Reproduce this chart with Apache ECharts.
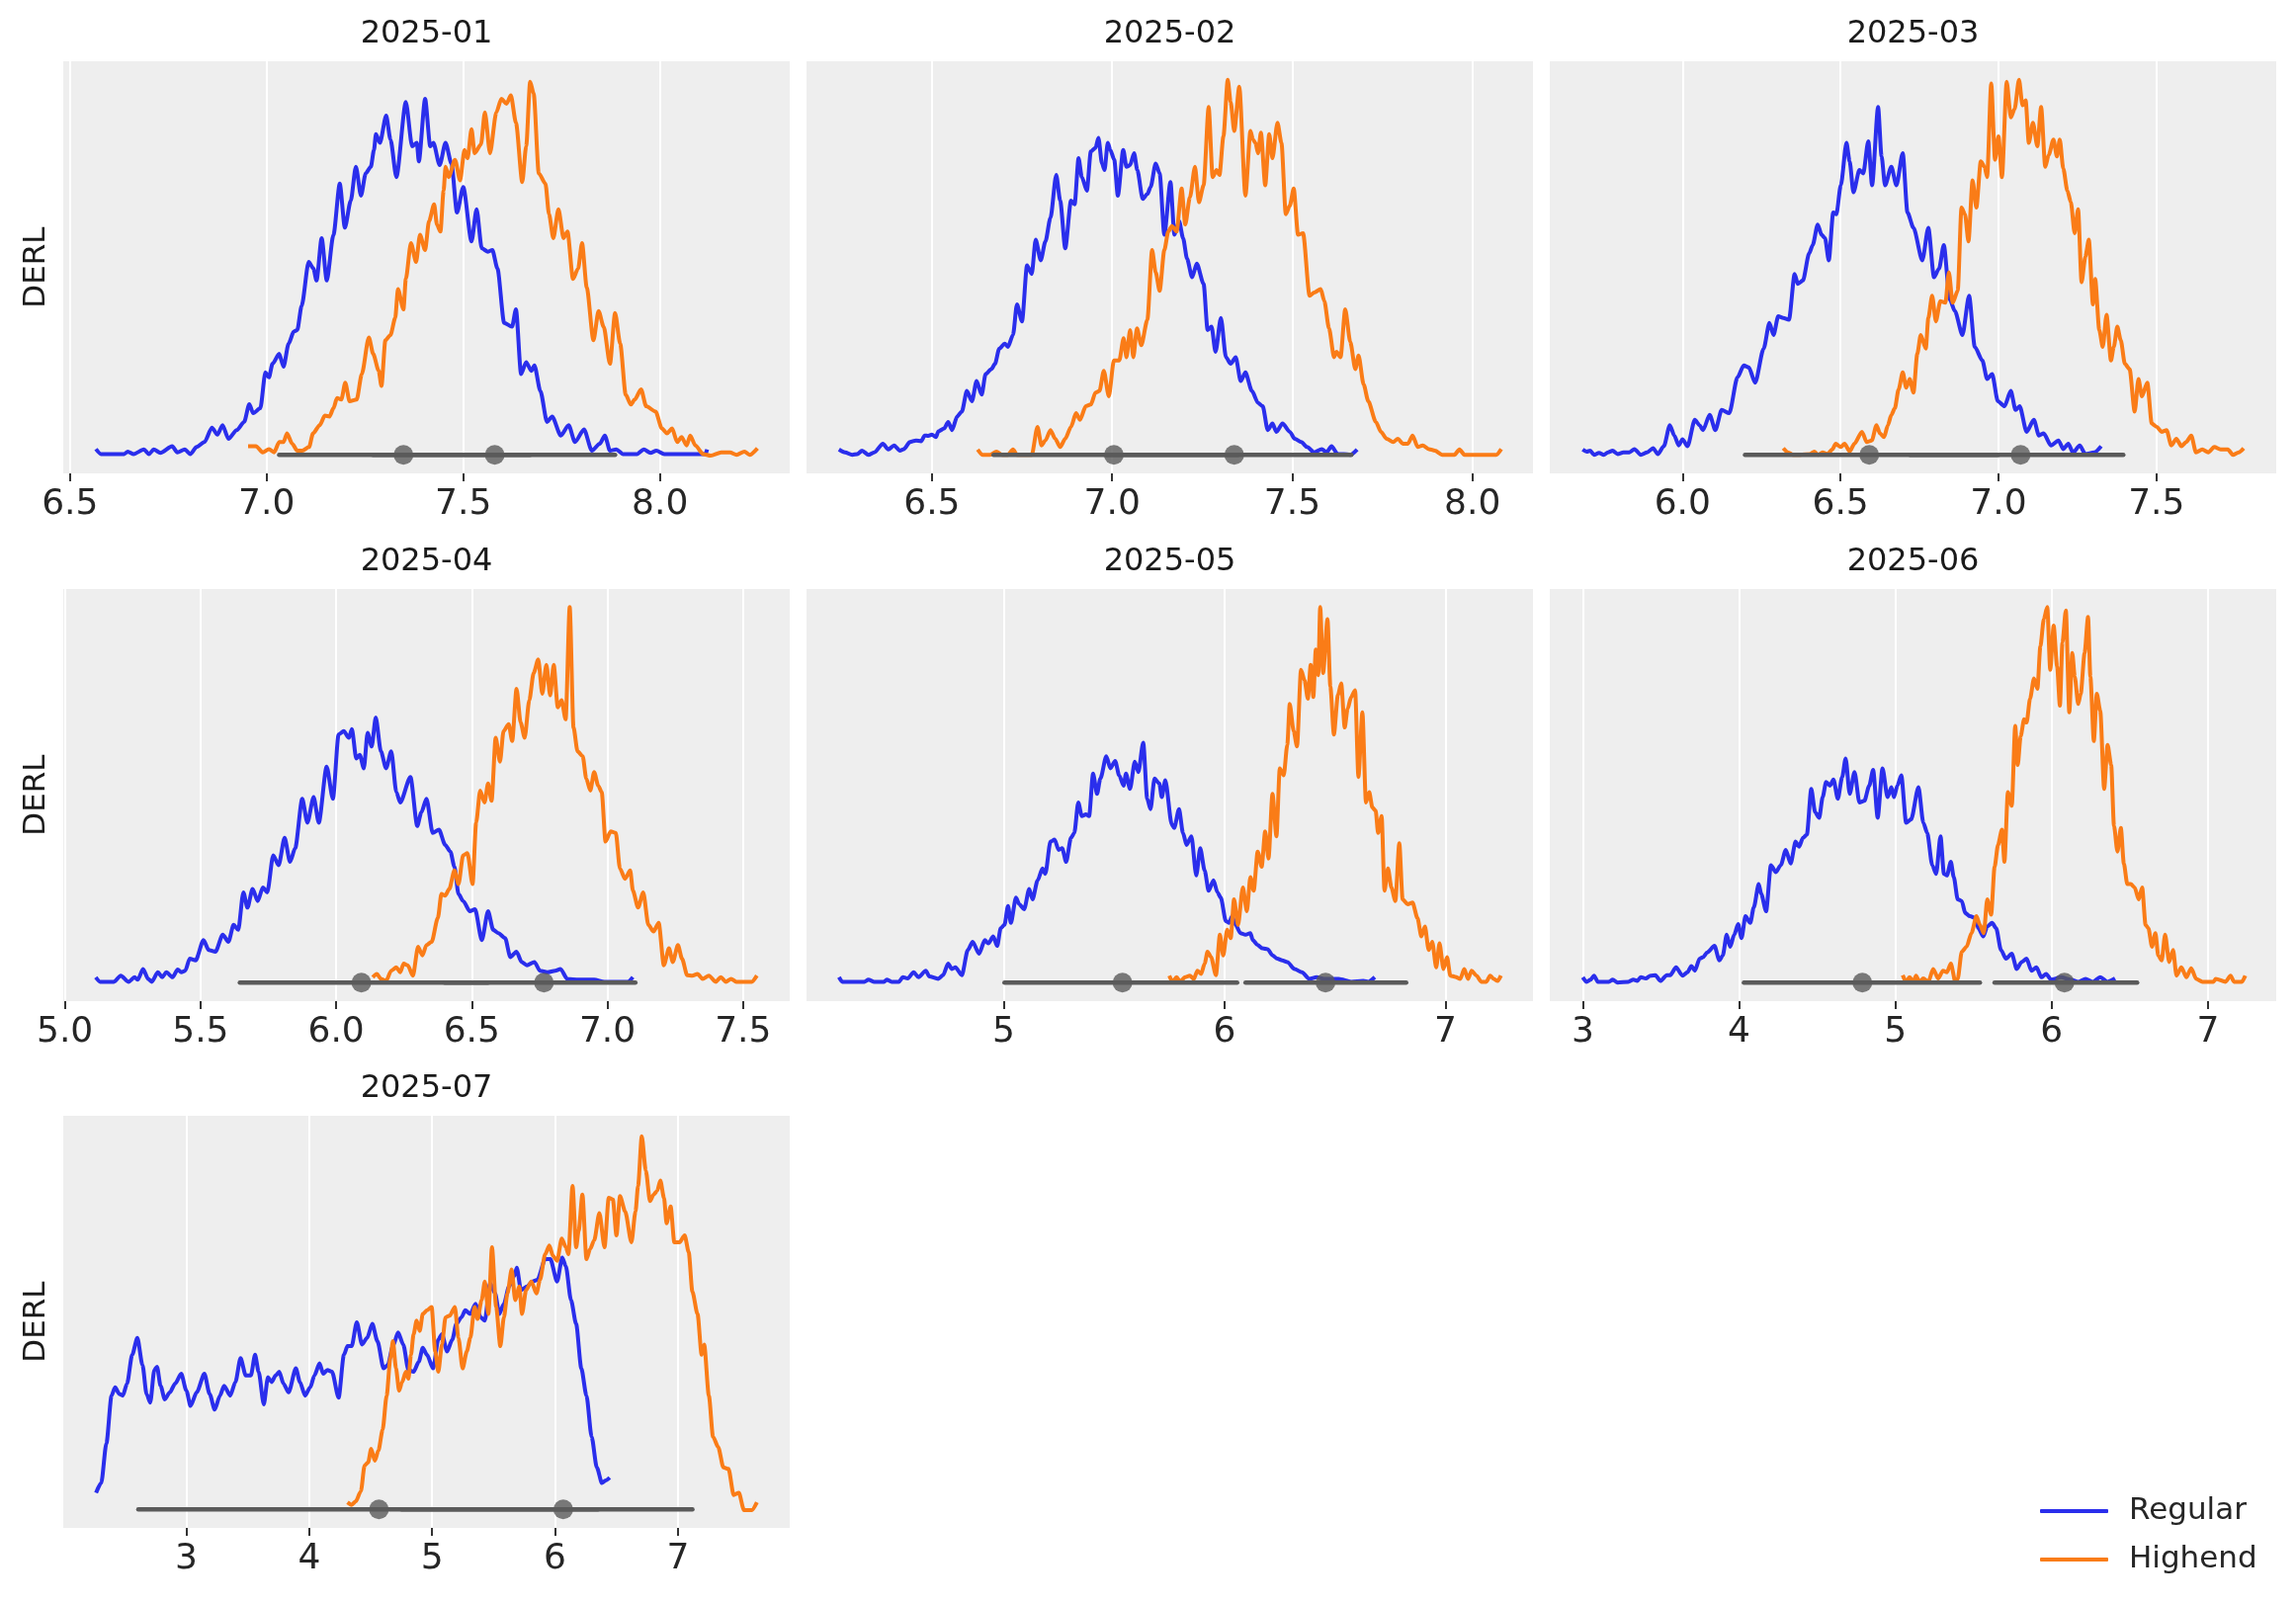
<!DOCTYPE html>
<html>
<head>
<meta charset="utf-8">
<title>DERL by month</title>
<script src="https://cdn.jsdelivr.net/npm/echarts@6.0.0/dist/echarts.min.js"></script>
<style>
  html, body { margin: 0; padding: 0; background: #fff; }
  #chart { width: 2323px; height: 1623px; }
</style>
</head>
<body>
<div id="chart"></div>
<script>
// panel titles and series names
var months = ['2025-01', '2025-02', '2025-03', '2025-04', '2025-05', '2025-06', '2025-07'];
var seriesNames = ['Regular', 'Highend'];

// x range of every panel and its tick values
var xRanges = [[6.483, 8.330], [6.152, 8.168], [5.580, 7.879], [4.994, 7.672], [4.108, 7.396], [2.789, 7.437], [1.998, 7.910]];
var xTicks = [[6.5, 7.0, 7.5, 8.0], [6.5, 7.0, 7.5, 8.0], [6.0, 6.5, 7.0, 7.5], [5.0, 5.5, 6.0, 6.5, 7.0, 7.5], [5, 6, 7], [3, 4, 5, 6, 7], [3, 4, 5, 6, 7]];
var tickDecimals = [1, 1, 1, 1, 0, 0, 0];

// HDI intervals and point estimates
var regHdi = [[7.032, 7.67], [6.671, 7.35], [6.198, 7.00], [5.645, 6.56], [5.004, 6.057], [4.031, 5.541], [2.609, 6.35]];
var regPoint = [7.348, 7.005, 6.591, 6.093, 5.538, 4.789, 4.567];
var highHdi = [[7.27, 7.886], [6.98, 7.664], [6.72, 7.395], [6.40, 7.103], [6.095, 6.822], [5.635, 6.547], [4.75, 7.118]];
var highPoint = [7.580, 7.339, 7.070, 6.766, 6.457, 6.082, 6.067];

// density curves (relative height, % of panel)
var reg01 = [[6.566,5.9],[6.579,4.7],[6.638,4.7],[6.647,5.3],[6.662,4.7],[6.688,5.8],[6.701,4.7],[6.713,5.8],[6.730,5.0],[6.760,6.6],[6.773,5.1],[6.792,5.8],[6.806,4.7],[6.822,6.4],[6.842,7.6],[6.861,11.1],[6.875,9.4],[6.888,11.7],[6.903,8.4],[6.924,10.5],[6.943,12.5],[6.956,16.8],[6.966,14.6],[6.984,15.8],[6.997,24.5],[7.006,23.3],[7.015,26.6],[7.032,29.0],[7.043,25.9],[7.056,31.5],[7.069,34.4],[7.078,34.8],[7.089,40.6],[7.107,51.3],[7.119,49.7],[7.127,46.8],[7.140,57.1],[7.153,46.8],[7.170,57.9],[7.186,70.3],[7.199,59.6],[7.214,66.2],[7.227,74.4],[7.240,67.4],[7.252,72.8],[7.265,74.4],[7.273,78.5],[7.278,82.3],[7.288,80.2],[7.304,86.8],[7.315,81.0],[7.330,71.9],[7.354,90.1],[7.370,79.4],[7.382,80.2],[7.387,75.7],[7.403,90.9],[7.416,79.4],[7.424,80.2],[7.440,74.8],[7.455,80.2],[7.470,75.2],[7.484,63.3],[7.500,69.5],[7.521,56.3],[7.534,64.1],[7.547,54.6],[7.563,53.8],[7.574,54.2],[7.587,49.7],[7.604,36.5],[7.624,35.6],[7.634,39.8],[7.647,24.1],[7.660,27.0],[7.673,24.9],[7.681,26.2],[7.696,20.0],[7.713,12.5],[7.726,13.8],[7.748,9.2],[7.768,11.7],[7.784,7.6],[7.807,10.7],[7.827,5.5],[7.847,7.2],[7.860,9.2],[7.873,5.5],[7.889,5.8],[7.906,4.7],[7.942,4.7],[7.959,5.8],[7.976,5.0],[7.991,5.5],[8.011,4.7],[8.116,4.7],[8.120,5.8]];
var high01 = [[6.953,6.6],[6.973,6.6],[6.990,5.1],[7.006,5.9],[7.019,5.1],[7.032,7.6],[7.043,7.6],[7.052,9.7],[7.065,7.2],[7.078,5.5],[7.091,5.5],[7.108,6.4],[7.118,9.7],[7.135,11.7],[7.148,14.0],[7.160,13.8],[7.170,15.8],[7.179,18.3],[7.190,17.9],[7.200,22.0],[7.211,17.5],[7.229,17.9],[7.242,24.1],[7.260,33.0],[7.271,29.0],[7.285,24.9],[7.292,21.2],[7.302,32.3],[7.315,33.6],[7.327,37.7],[7.334,44.7],[7.348,39.8],[7.354,47.2],[7.367,55.9],[7.380,51.3],[7.390,57.9],[7.403,54.2],[7.413,61.2],[7.426,65.3],[7.433,60.4],[7.442,58.7],[7.450,68.6],[7.455,74.4],[7.463,71.9],[7.479,76.1],[7.492,71.1],[7.503,78.5],[7.511,76.5],[7.521,83.5],[7.529,77.7],[7.545,79.8],[7.555,87.6],[7.568,77.7],[7.584,87.6],[7.597,90.9],[7.610,89.7],[7.621,91.7],[7.634,85.1],[7.650,70.7],[7.660,79.4],[7.670,95.0],[7.679,92.2],[7.692,72.8],[7.709,70.3],[7.718,62.9],[7.729,57.1],[7.742,64.1],[7.755,57.1],[7.765,58.7],[7.779,47.2],[7.792,49.7],[7.802,55.9],[7.814,45.1],[7.831,32.3],[7.844,39.4],[7.857,35.6],[7.873,26.6],[7.886,38.9],[7.899,31.5],[7.913,19.1],[7.926,16.7],[7.936,17.9],[7.952,20.4],[7.965,16.3],[7.989,15.0],[8.005,10.9],[8.018,9.7],[8.031,10.9],[8.044,7.6],[8.055,8.8],[8.068,6.8],[8.077,9.2],[8.090,6.8],[8.110,4.7],[8.129,4.3],[8.156,5.1],[8.178,5.1],[8.195,4.5],[8.215,5.3],[8.228,4.5],[8.248,6.1]];
var reg02 = [[6.242,5.8],[6.259,5.1],[6.279,4.5],[6.293,4.7],[6.306,5.5],[6.324,4.5],[6.340,5.1],[6.364,7.2],[6.379,5.8],[6.395,6.8],[6.411,5.5],[6.422,5.9],[6.439,7.6],[6.456,8.0],[6.470,7.8],[6.480,9.2],[6.490,9.1],[6.500,9.4],[6.511,8.8],[6.518,10.2],[6.534,10.9],[6.545,12.5],[6.556,10.5],[6.570,13.8],[6.583,15.0],[6.597,20.0],[6.611,17.5],[6.624,22.4],[6.638,19.1],[6.649,24.1],[6.665,25.3],[6.675,26.6],[6.687,30.3],[6.702,31.5],[6.711,30.7],[6.725,33.6],[6.736,41.0],[6.750,36.9],[6.764,50.5],[6.777,48.4],[6.788,56.7],[6.802,51.7],[6.815,56.3],[6.829,62.0],[6.845,72.4],[6.856,66.2],[6.870,54.6],[6.886,66.2],[6.896,65.3],[6.907,76.5],[6.916,71.9],[6.930,68.6],[6.941,78.1],[6.954,79.0],[6.962,81.4],[6.972,75.2],[6.979,73.6],[6.988,80.2],[6.995,78.5],[7.006,76.1],[7.016,67.4],[7.031,78.5],[7.040,74.4],[7.050,74.8],[7.061,77.7],[7.070,73.6],[7.085,66.6],[7.098,67.8],[7.107,69.5],[7.121,75.2],[7.132,72.8],[7.145,57.9],[7.162,70.7],[7.173,57.9],[7.186,61.2],[7.197,57.1],[7.208,52.1],[7.222,47.6],[7.235,50.9],[7.254,46.0],[7.265,34.8],[7.276,35.6],[7.287,29.5],[7.302,37.7],[7.316,28.2],[7.329,26.6],[7.343,28.2],[7.357,22.4],[7.370,24.5],[7.388,20.0],[7.405,17.1],[7.418,16.3],[7.432,10.5],[7.445,12.1],[7.456,10.1],[7.473,12.1],[7.493,10.1],[7.507,8.4],[7.525,7.6],[7.541,6.4],[7.561,5.1],[7.582,5.9],[7.595,5.1],[7.609,6.6],[7.626,4.7],[7.643,4.7],[7.661,4.5],[7.680,5.8]];
var high02 = [[6.627,5.8],[6.641,4.5],[6.661,4.5],[6.679,5.3],[6.695,4.5],[6.711,4.5],[6.725,5.8],[6.736,4.5],[6.777,4.5],[6.793,11.3],[6.804,6.8],[6.815,8.0],[6.829,10.5],[6.842,8.4],[6.856,6.4],[6.870,8.4],[6.886,11.3],[6.900,14.6],[6.911,13.0],[6.927,16.3],[6.941,16.7],[6.954,19.6],[6.965,20.0],[6.977,24.9],[6.991,18.7],[7.005,27.4],[7.020,27.4],[7.032,32.8],[7.040,28.2],[7.050,34.8],[7.059,28.2],[7.069,35.2],[7.081,31.1],[7.098,37.3],[7.111,54.2],[7.121,48.8],[7.132,44.3],[7.145,54.2],[7.156,58.7],[7.166,60.0],[7.179,58.7],[7.193,69.1],[7.203,60.4],[7.216,67.0],[7.230,74.4],[7.241,65.8],[7.254,69.9],[7.268,88.9],[7.279,71.9],[7.290,73.6],[7.298,72.4],[7.309,81.8],[7.321,95.5],[7.329,90.1],[7.339,83.1],[7.353,93.8],[7.370,67.4],[7.384,83.1],[7.391,81.0],[7.398,80.2],[7.405,77.7],[7.413,82.7],[7.425,69.9],[7.436,82.3],[7.445,76.5],[7.459,85.1],[7.470,80.2],[7.482,62.9],[7.493,64.9],[7.504,69.1],[7.516,57.9],[7.530,58.3],[7.548,43.1],[7.561,43.9],[7.579,44.7],[7.589,41.8],[7.602,35.2],[7.616,28.2],[7.623,29.5],[7.634,28.2],[7.647,39.8],[7.661,31.9],[7.675,25.3],[7.684,28.6],[7.698,21.6],[7.711,17.5],[7.732,12.5],[7.746,10.1],[7.762,8.4],[7.780,7.6],[7.793,8.4],[7.807,7.2],[7.821,7.2],[7.834,9.2],[7.848,6.4],[7.862,6.8],[7.879,5.9],[7.896,5.5],[7.916,4.5],[7.950,4.5],[7.964,5.8],[7.978,4.5],[8.066,4.5],[8.080,5.9]];
var reg03 = [[5.684,5.8],[5.697,5.3],[5.708,5.5],[5.720,4.5],[5.736,5.0],[5.751,4.5],[5.764,5.1],[5.779,5.5],[5.795,4.7],[5.813,5.1],[5.832,5.1],[5.848,5.9],[5.868,4.5],[5.888,5.1],[5.907,6.1],[5.922,4.7],[5.941,6.6],[5.960,11.7],[5.974,9.2],[5.988,6.8],[6.000,8.3],[6.016,6.6],[6.039,13.0],[6.054,11.7],[6.065,10.5],[6.086,14.2],[6.104,10.5],[6.124,15.4],[6.148,14.6],[6.174,23.3],[6.194,26.2],[6.210,25.7],[6.230,22.0],[6.257,30.3],[6.275,36.5],[6.288,33.6],[6.303,38.1],[6.319,37.7],[6.337,37.3],[6.355,48.4],[6.365,46.0],[6.381,46.8],[6.401,53.4],[6.412,55.4],[6.428,60.4],[6.440,57.9],[6.451,57.1],[6.463,51.7],[6.477,63.3],[6.487,62.9],[6.501,69.9],[6.519,80.2],[6.529,75.7],[6.541,68.2],[6.560,73.6],[6.572,72.8],[6.588,80.6],[6.600,69.9],[6.619,88.9],[6.630,76.9],[6.641,69.9],[6.661,74.4],[6.677,69.9],[6.697,77.7],[6.712,63.3],[6.731,59.6],[6.759,51.7],[6.778,59.6],[6.796,47.6],[6.812,49.7],[6.827,55.4],[6.846,42.2],[6.862,39.4],[6.886,33.6],[6.907,43.1],[6.925,30.7],[6.949,27.4],[6.964,22.9],[6.980,24.1],[6.998,17.5],[7.019,16.3],[7.039,20.0],[7.054,15.4],[7.067,16.3],[7.089,10.1],[7.112,13.0],[7.128,9.2],[7.143,9.7],[7.166,6.8],[7.190,8.0],[7.205,5.9],[7.221,7.2],[7.236,5.0],[7.257,6.8],[7.275,4.7],[7.303,5.1],[7.325,6.6]];
var high03 = [[6.319,6.1],[6.334,5.1],[6.350,4.5],[6.373,4.5],[6.404,4.7],[6.417,5.3],[6.429,4.5],[6.443,5.1],[6.459,4.7],[6.474,5.8],[6.485,7.2],[6.501,6.4],[6.513,7.2],[6.529,5.3],[6.544,7.2],[6.568,10.1],[6.583,7.6],[6.599,8.0],[6.614,11.7],[6.625,9.7],[6.638,8.8],[6.650,11.7],[6.661,14.2],[6.672,15.8],[6.684,20.4],[6.697,24.5],[6.708,20.8],[6.719,22.9],[6.731,19.6],[6.743,29.0],[6.754,33.6],[6.770,30.3],[6.778,37.7],[6.790,43.1],[6.802,36.9],[6.816,41.8],[6.832,41.4],[6.843,48.8],[6.855,41.4],[6.871,44.3],[6.883,64.5],[6.894,62.9],[6.905,56.3],[6.918,71.1],[6.930,64.5],[6.944,75.7],[6.956,74.4],[6.964,71.9],[6.977,94.6],[6.989,76.1],[7.000,81.8],[7.011,71.9],[7.026,95.0],[7.039,86.4],[7.051,88.4],[7.065,95.5],[7.076,89.3],[7.086,90.5],[7.096,80.2],[7.109,85.1],[7.123,79.4],[7.135,88.9],[7.148,74.4],[7.159,77.3],[7.174,81.0],[7.185,76.9],[7.194,81.0],[7.205,74.0],[7.218,68.6],[7.229,65.8],[7.241,58.3],[7.252,64.1],[7.263,46.4],[7.275,52.6],[7.286,56.7],[7.299,41.0],[7.306,47.2],[7.319,34.8],[7.330,30.7],[7.342,38.5],[7.356,27.4],[7.365,30.7],[7.376,35.6],[7.387,32.3],[7.400,26.6],[7.415,25.3],[7.431,15.0],[7.443,22.9],[7.454,18.7],[7.471,22.0],[7.485,12.1],[7.501,11.3],[7.516,10.1],[7.532,10.5],[7.547,6.8],[7.563,8.4],[7.579,6.6],[7.594,7.6],[7.610,9.2],[7.625,5.1],[7.645,5.8],[7.664,5.1],[7.683,6.4],[7.703,5.8],[7.726,5.8],[7.742,4.5],[7.760,5.1],[7.776,6.1]];
var reg04 = [[5.114,5.8],[5.130,4.7],[5.181,4.7],[5.206,6.2],[5.235,4.7],[5.257,5.8],[5.269,5.2],[5.288,7.8],[5.307,5.4],[5.320,4.7],[5.343,7.0],[5.359,5.8],[5.374,7.0],[5.397,5.8],[5.416,7.7],[5.429,7.0],[5.444,7.4],[5.460,10.3],[5.482,9.9],[5.511,14.8],[5.530,12.4],[5.555,12.0],[5.582,16.1],[5.603,14.4],[5.622,18.5],[5.639,17.3],[5.658,26.4],[5.673,22.7],[5.692,27.2],[5.711,24.3],[5.730,27.6],[5.746,26.4],[5.768,35.4],[5.788,33.0],[5.810,39.6],[5.830,33.8],[5.849,37.1],[5.875,49.1],[5.894,43.3],[5.917,49.5],[5.936,43.3],[5.965,56.9],[5.988,49.1],[6.009,64.7],[6.028,65.5],[6.047,63.9],[6.058,66.0],[6.074,58.9],[6.087,59.8],[6.102,56.5],[6.116,65.1],[6.131,61.8],[6.146,68.8],[6.165,60.6],[6.184,56.5],[6.203,60.6],[6.222,50.7],[6.236,48.2],[6.274,54.4],[6.299,42.5],[6.314,45.8],[6.333,49.1],[6.356,40.8],[6.379,41.6],[6.402,37.9],[6.421,36.3],[6.436,32.6],[6.451,26.0],[6.468,24.3],[6.493,21.8],[6.512,22.3],[6.537,14.8],[6.560,21.8],[6.579,17.3],[6.598,16.5],[6.623,15.3],[6.642,10.7],[6.665,12.0],[6.684,9.5],[6.703,8.7],[6.731,9.5],[6.751,7.4],[6.779,7.0],[6.808,7.4],[6.827,7.8],[6.852,5.4],[6.894,5.2],[6.951,5.2],[6.989,4.7],[7.075,4.7],[7.094,5.8]];
var high04 = [[6.135,5.8],[6.150,6.6],[6.165,5.4],[6.184,4.9],[6.203,7.4],[6.222,8.2],[6.236,7.0],[6.249,9.1],[6.264,8.7],[6.283,6.2],[6.302,13.2],[6.318,11.1],[6.333,13.6],[6.352,14.4],[6.375,20.2],[6.388,26.0],[6.402,25.6],[6.417,27.2],[6.436,31.7],[6.451,28.4],[6.468,35.4],[6.484,35.9],[6.503,28.4],[6.516,43.3],[6.531,51.1],[6.547,48.2],[6.560,52.8],[6.573,48.6],[6.588,63.9],[6.604,58.1],[6.617,65.5],[6.636,67.2],[6.649,63.1],[6.665,75.8],[6.680,67.6],[6.695,63.9],[6.712,73.0],[6.728,79.6],[6.745,82.9],[6.760,74.6],[6.775,81.6],[6.789,74.2],[6.802,81.6],[6.817,71.3],[6.831,73.0],[6.846,68.4],[6.861,95.6],[6.875,66.4],[6.890,60.6],[6.909,59.4],[6.922,54.0],[6.937,51.1],[6.951,55.6],[6.966,52.3],[6.979,50.7],[6.993,38.7],[7.012,41.2],[7.031,40.8],[7.046,32.2],[7.065,29.7],[7.084,31.7],[7.094,26.8],[7.113,22.7],[7.132,26.4],[7.151,18.5],[7.170,16.9],[7.189,19.0],[7.208,8.7],[7.227,12.8],[7.241,9.5],[7.260,13.6],[7.275,10.3],[7.294,6.3],[7.313,6.2],[7.332,6.6],[7.351,5.4],[7.374,6.2],[7.399,4.7],[7.418,5.8],[7.437,4.7],[7.456,5.4],[7.475,4.7],[7.532,4.7],[7.551,6.2]];
var reg05 = [[4.255,5.8],[4.270,4.7],[4.370,4.7],[4.388,5.2],[4.415,4.7],[4.459,4.7],[4.471,5.2],[4.493,4.7],[4.526,4.7],[4.544,5.8],[4.566,5.5],[4.593,7.0],[4.615,5.8],[4.648,7.4],[4.664,6.0],[4.704,5.4],[4.726,6.3],[4.749,9.1],[4.766,7.8],[4.782,8.2],[4.811,6.3],[4.838,12.4],[4.860,14.4],[4.889,11.5],[4.915,14.8],[4.931,14.0],[4.953,15.7],[4.971,13.4],[4.987,17.7],[5.004,18.5],[5.020,23.1],[5.033,19.0],[5.056,25.1],[5.071,23.5],[5.093,22.3],[5.116,27.2],[5.131,24.7],[5.154,29.3],[5.176,32.2],[5.189,30.9],[5.212,38.7],[5.231,39.2],[5.249,36.7],[5.265,37.1],[5.283,33.8],[5.305,39.6],[5.320,40.8],[5.338,48.2],[5.354,44.9],[5.372,45.3],[5.387,44.9],[5.405,55.2],[5.423,50.3],[5.438,54.0],[5.465,59.4],[5.483,56.5],[5.505,58.3],[5.523,54.8],[5.543,52.3],[5.554,55.2],[5.572,51.5],[5.594,58.1],[5.610,55.6],[5.632,62.7],[5.650,49.1],[5.665,46.6],[5.683,54.0],[5.705,52.8],[5.716,49.5],[5.732,53.6],[5.761,42.9],[5.772,42.0],[5.794,46.6],[5.812,40.8],[5.828,37.9],[5.850,40.0],[5.872,30.5],[5.890,37.1],[5.910,31.7],[5.928,26.8],[5.950,29.3],[5.968,26.4],[5.983,25.1],[6.006,19.4],[6.021,19.0],[6.034,20.6],[6.050,18.5],[6.072,16.5],[6.095,16.1],[6.117,16.5],[6.128,14.8],[6.150,13.6],[6.172,12.8],[6.195,12.6],[6.217,11.1],[6.239,10.3],[6.261,9.9],[6.284,9.5],[6.317,7.8],[6.350,7.0],[6.384,5.4],[6.417,5.8],[6.450,5.4],[6.484,5.4],[6.517,5.4],[6.573,4.7],[6.628,4.9],[6.651,4.7],[6.680,5.8]];
var high05 = [[5.750,6.2],[5.765,4.7],[5.783,5.8],[5.799,4.7],[5.821,5.8],[5.843,6.2],[5.861,5.4],[5.877,7.4],[5.894,6.6],[5.910,9.1],[5.923,12.0],[5.939,10.7],[5.961,6.3],[5.979,16.1],[5.994,11.1],[6.012,17.3],[6.028,15.3],[6.043,24.7],[6.061,18.5],[6.083,27.6],[6.101,21.8],[6.117,30.1],[6.132,26.8],[6.150,36.3],[6.168,32.6],[6.184,41.2],[6.199,34.6],[6.217,50.3],[6.235,40.0],[6.250,56.5],[6.268,54.8],[6.284,62.2],[6.295,72.1],[6.313,65.5],[6.328,61.8],[6.346,80.4],[6.362,77.9],[6.377,73.4],[6.390,81.6],[6.402,73.8],[6.413,85.3],[6.424,79.1],[6.433,95.6],[6.446,79.6],[6.466,92.7],[6.479,76.3],[6.495,64.7],[6.513,74.2],[6.528,77.1],[6.544,66.4],[6.557,70.9],[6.573,73.8],[6.591,75.4],[6.606,54.4],[6.624,70.1],[6.640,48.2],[6.655,50.7],[6.669,47.0],[6.684,46.2],[6.695,40.8],[6.711,44.9],[6.724,26.8],[6.740,32.2],[6.755,27.6],[6.773,24.3],[6.791,38.3],[6.806,24.7],[6.829,23.5],[6.851,23.9],[6.873,20.2],[6.891,15.7],[6.907,18.1],[6.924,12.4],[6.940,14.4],[6.958,8.2],[6.973,14.0],[6.991,7.8],[7.007,10.7],[7.022,6.2],[7.045,5.9],[7.067,5.4],[7.085,7.8],[7.102,5.4],[7.118,7.4],[7.140,6.2],[7.162,4.7],[7.185,4.7],[7.202,6.2],[7.218,5.4],[7.236,4.9],[7.251,6.2]];
var reg06 = [[3.000,5.8],[3.025,4.7],[3.050,5.2],[3.072,6.2],[3.097,4.7],[3.167,4.7],[3.192,5.2],[3.223,4.5],[3.292,4.7],[3.324,5.2],[3.349,4.9],[3.371,5.8],[3.403,5.5],[3.434,6.2],[3.465,6.3],[3.497,4.9],[3.538,6.3],[3.560,6.3],[3.597,8.2],[3.638,6.2],[3.670,7.0],[3.695,8.5],[3.717,7.4],[3.748,10.3],[3.770,10.7],[3.796,11.8],[3.843,13.4],[3.874,9.9],[3.896,11.1],[3.921,16.1],[3.943,13.2],[3.969,16.1],[3.994,18.7],[4.016,15.3],[4.041,20.6],[4.072,19.0],[4.094,22.7],[4.126,28.4],[4.142,26.0],[4.173,21.8],[4.204,33.0],[4.236,31.3],[4.267,33.0],[4.299,36.7],[4.330,33.4],[4.362,38.7],[4.384,37.5],[4.409,39.6],[4.434,40.4],[4.462,51.5],[4.487,45.8],[4.513,44.5],[4.535,49.5],[4.557,53.2],[4.582,52.3],[4.604,53.8],[4.632,49.1],[4.660,54.4],[4.682,58.9],[4.708,50.3],[4.739,55.6],[4.770,48.2],[4.802,48.6],[4.833,52.3],[4.858,56.1],[4.887,44.5],[4.918,56.5],[4.950,49.5],[4.975,51.9],[4.991,49.5],[5.013,52.3],[5.038,54.8],[5.069,43.3],[5.101,44.1],[5.148,51.9],[5.179,43.3],[5.204,40.8],[5.236,33.0],[5.261,30.9],[5.289,40.0],[5.311,30.9],[5.330,30.5],[5.355,33.8],[5.374,30.1],[5.399,24.7],[5.425,24.3],[5.447,21.4],[5.478,20.6],[5.509,20.2],[5.531,17.7],[5.563,15.7],[5.588,18.1],[5.619,19.0],[5.645,17.7],[5.676,12.4],[5.708,10.3],[5.745,11.5],[5.777,7.8],[5.808,9.5],[5.840,10.3],[5.871,7.4],[5.903,8.2],[5.934,5.8],[5.965,6.6],[5.997,5.2],[6.060,5.8],[6.123,5.2],[6.170,4.7],[6.217,5.4],[6.264,4.7],[6.311,5.8],[6.358,4.7],[6.406,5.5]];
var high06 = [[5.047,6.3],[5.069,4.7],[5.091,5.8],[5.116,4.7],[5.132,6.2],[5.154,4.7],[5.179,5.5],[5.211,4.7],[5.242,7.8],[5.274,5.5],[5.305,7.4],[5.330,7.0],[5.355,9.1],[5.384,4.7],[5.399,5.4],[5.425,12.0],[5.456,13.2],[5.487,16.5],[5.519,20.6],[5.541,18.5],[5.566,16.5],[5.588,24.7],[5.613,21.0],[5.635,32.6],[5.657,37.9],[5.682,41.6],[5.698,33.8],[5.720,50.7],[5.745,47.4],[5.767,66.8],[5.783,57.3],[5.802,64.3],[5.824,68.4],[5.840,67.6],[5.862,73.4],[5.887,78.3],[5.909,75.8],[5.928,86.1],[5.950,92.7],[5.972,95.6],[5.991,80.4],[6.013,91.1],[6.035,81.2],[6.053,71.7],[6.069,87.0],[6.091,94.8],[6.113,70.1],[6.132,84.5],[6.148,78.7],[6.170,72.1],[6.186,74.6],[6.211,84.5],[6.233,93.2],[6.248,78.7],[6.270,63.1],[6.289,74.6],[6.311,70.5],[6.336,51.5],[6.358,62.2],[6.381,57.3],[6.399,42.5],[6.421,36.3],[6.443,42.0],[6.462,33.4],[6.484,28.4],[6.506,28.4],[6.531,27.6],[6.557,24.7],[6.579,27.6],[6.601,18.5],[6.619,17.7],[6.642,13.2],[6.664,16.5],[6.682,11.1],[6.704,9.9],[6.726,16.1],[6.752,9.5],[6.777,12.4],[6.799,6.2],[6.830,8.2],[6.862,5.8],[6.893,8.0],[6.925,5.4],[6.965,4.7],[7.035,4.7],[7.050,5.4],[7.113,4.7],[7.145,6.2],[7.167,4.7],[7.217,4.7],[7.239,6.2]];
var reg07 = [[2.265,8.5],[2.307,10.9],[2.349,20.5],[2.391,32.1],[2.420,34.1],[2.454,32.5],[2.483,32.1],[2.517,35.0],[2.559,42.0],[2.601,46.1],[2.643,39.5],[2.676,32.5],[2.706,30.4],[2.739,38.3],[2.761,39.1],[2.790,34.5],[2.824,31.2],[2.866,32.9],[2.908,35.0],[2.958,37.4],[3.000,33.3],[3.034,29.6],[3.084,32.9],[3.147,37.4],[3.189,32.5],[3.231,28.7],[3.273,32.1],[3.307,34.5],[3.357,32.1],[3.399,35.4],[3.441,41.2],[3.483,37.0],[3.525,37.0],[3.559,42.0],[3.588,37.9],[3.630,30.0],[3.664,36.6],[3.693,35.4],[3.727,37.0],[3.756,37.9],[3.790,35.0],[3.832,32.9],[3.891,38.7],[3.924,35.4],[3.966,32.1],[4.008,34.1],[4.042,37.0],[4.084,39.9],[4.113,37.4],[4.147,38.3],[4.185,37.9],[4.239,31.6],[4.282,42.0],[4.311,44.1],[4.345,44.1],[4.387,49.9],[4.429,44.5],[4.471,46.1],[4.513,49.5],[4.555,45.3],[4.605,38.7],[4.639,39.5],[4.681,44.1],[4.723,47.4],[4.765,44.5],[4.807,38.3],[4.849,37.9],[4.891,40.3],[4.924,43.7],[4.958,42.0],[5.008,38.7],[5.050,45.7],[5.080,47.0],[5.122,42.8],[5.164,45.7],[5.197,49.5],[5.239,51.1],[5.269,52.8],[5.311,51.9],[5.353,54.4],[5.395,51.1],[5.429,50.3],[5.471,59.4],[5.513,56.9],[5.546,51.9],[5.584,54.4],[5.626,58.6],[5.668,61.1],[5.689,63.1],[5.723,57.7],[5.773,58.6],[5.815,59.8],[5.857,60.2],[5.920,65.2],[5.962,65.2],[6.017,59.8],[6.059,65.6],[6.088,63.5],[6.130,55.3],[6.172,49.5],[6.214,38.7],[6.256,32.1],[6.298,22.1],[6.340,14.7],[6.382,10.9],[6.412,11.5],[6.445,12.2]];
var high07 = [[4.311,6.2],[4.345,5.6],[4.378,6.4],[4.420,8.9],[4.450,15.1],[4.479,15.9],[4.504,19.2],[4.534,16.3],[4.563,18.8],[4.597,23.8],[4.630,32.1],[4.660,41.2],[4.681,45.3],[4.706,38.7],[4.731,33.3],[4.756,35.4],[4.786,37.9],[4.807,36.2],[4.828,42.0],[4.849,47.0],[4.874,50.3],[4.899,47.8],[4.924,51.9],[4.958,52.8],[4.996,53.6],[5.025,42.8],[5.050,37.9],[5.080,44.5],[5.109,51.1],[5.143,51.5],[5.185,53.6],[5.214,46.1],[5.248,38.7],[5.282,42.8],[5.311,46.1],[5.345,53.6],[5.370,50.7],[5.403,55.3],[5.429,59.8],[5.458,51.9],[5.487,68.1],[5.521,53.6],[5.555,44.1],[5.584,51.1],[5.613,56.9],[5.647,62.7],[5.676,55.3],[5.710,58.6],[5.731,51.9],[5.765,57.7],[5.807,59.8],[5.849,56.9],[5.878,60.2],[5.920,66.4],[5.954,68.5],[5.983,66.0],[6.017,64.8],[6.055,70.2],[6.088,68.1],[6.109,66.4],[6.143,83.0],[6.172,68.1],[6.193,72.2],[6.223,80.9],[6.256,65.2],[6.286,67.7],[6.319,69.8],[6.361,76.4],[6.403,68.1],[6.437,80.1],[6.471,79.7],[6.500,71.0],[6.529,80.5],[6.571,76.8],[6.622,69.3],[6.655,76.8],[6.676,83.0],[6.706,95.0],[6.739,86.7],[6.773,79.3],[6.803,80.9],[6.832,81.8],[6.857,84.3],[6.887,80.1],[6.908,73.9],[6.941,78.0],[6.971,69.3],[7.013,69.3],[7.055,71.0],[7.088,66.9],[7.118,57.3],[7.160,51.9],[7.193,42.0],[7.214,44.5],[7.252,32.1],[7.286,22.1],[7.328,19.6],[7.370,14.7],[7.412,14.3],[7.454,8.0],[7.496,8.5],[7.538,4.3],[7.601,4.3],[7.643,6.2]];

var regular = [reg01, reg02, reg03, reg04, reg05, reg06, reg07];
var highend = [high01, high02, high03, high04, high05, high06, high07];

// layout
var colLeft = [64, 816, 1568];
var rowTop = [62, 596, 1129];
var cellW = 735, cellH = 417;
var hdiLevel = 4.5;
var blue = '#2a2eec', orange = '#fa7c17', hdiColor = '#5a5a5a';
var font = 'DejaVu Sans';

var chart = echarts.init(document.getElementById('chart'));

var grids = [], xAxes = [], yAxes = [], titles = [], series = [];
months.forEach(function (m, i) {
    var col = i % 3, row = Math.floor(i / 3);
    grids.push({
        left: colLeft[col], top: rowTop[row], width: cellW, height: cellH,
        show: true, backgroundColor: '#eeeeee', borderWidth: 0
    });
    titles.push({
        text: m, left: colLeft[col] + cellW / 2, top: rowTop[row] - 43,
        textAlign: 'center', padding: 0,
        textStyle: { fontFamily: font, fontSize: 32, fontWeight: 'normal', color: '#1a1a1a' }
    });
    var dec = tickDecimals[i];
    xAxes.push({
        type: 'value', gridIndex: i,
        min: xRanges[i][0], max: xRanges[i][1],
        axisLine: { show: false },
        axisTick: { show: true, length: 8, customValues: xTicks[i], lineStyle: { color: '#333', width: 2 } },
        axisLabel: {
            customValues: xTicks[i], margin: 14,
            fontFamily: font, fontSize: 36, color: '#262626',
            formatter: function (v) { return v.toFixed(dec); }
        },
        splitLine: { show: true, lineStyle: { color: '#ffffff', width: 2 } }
    });
    yAxes.push({
        type: 'value', gridIndex: i, min: 0, max: 100,
        axisLine: { show: false }, axisTick: { show: false },
        axisLabel: { show: false }, splitLine: { show: false },
        name: col === 0 ? 'DERL' : '', nameLocation: 'middle', nameGap: 12,
        nameTextStyle: { fontFamily: font, fontSize: 31, color: '#1a1a1a' }
    });

    series.push({
        name: 'Regular', type: 'line', xAxisIndex: i, yAxisIndex: i,
        data: regular[i], showSymbol: false, smooth: 0.25, smoothMonotone: 'x',
        lineStyle: { color: blue, width: 4 }, itemStyle: { color: blue }, z: 2
    });
    series.push({
        name: 'Highend', type: 'line', xAxisIndex: i, yAxisIndex: i,
        data: highend[i], showSymbol: false, smooth: 0.25, smoothMonotone: 'x',
        lineStyle: { color: orange, width: 4 }, itemStyle: { color: orange }, z: 2
    });
    [regHdi[i], highHdi[i]].forEach(function (iv) {
        series.push({
            name: 'hdi', type: 'line', xAxisIndex: i, yAxisIndex: i,
            data: [[iv[0], hdiLevel], [iv[1], hdiLevel]], showSymbol: false,
            lineStyle: { color: hdiColor, width: 4.5, cap: 'round' }, z: 3, silent: true
        });
    });
    series.push({
        name: 'estimate', type: 'scatter', xAxisIndex: i, yAxisIndex: i,
        data: [[regPoint[i], hdiLevel], [highPoint[i], hdiLevel]],
        symbolSize: 20, itemStyle: { color: hdiColor }, z: 4, silent: true
    });
});

var option = {
    backgroundColor: '#ffffff',
    animation: false,
    title: titles,
    grid: grids,
    xAxis: xAxes,
    yAxis: yAxes,
    legend: {
        data: seriesNames, orient: 'vertical',
        left: 2059, top: 1506, itemWidth: 69, itemHeight: 4, itemGap: 13,
        icon: 'roundRect',
        textStyle: { fontFamily: font, fontSize: 31, color: '#262626', lineHeight: 36, padding: [0, 0, 0, 16] }
    },
    series: series
};
chart.setOption(option);
</script>
</body>
</html>
